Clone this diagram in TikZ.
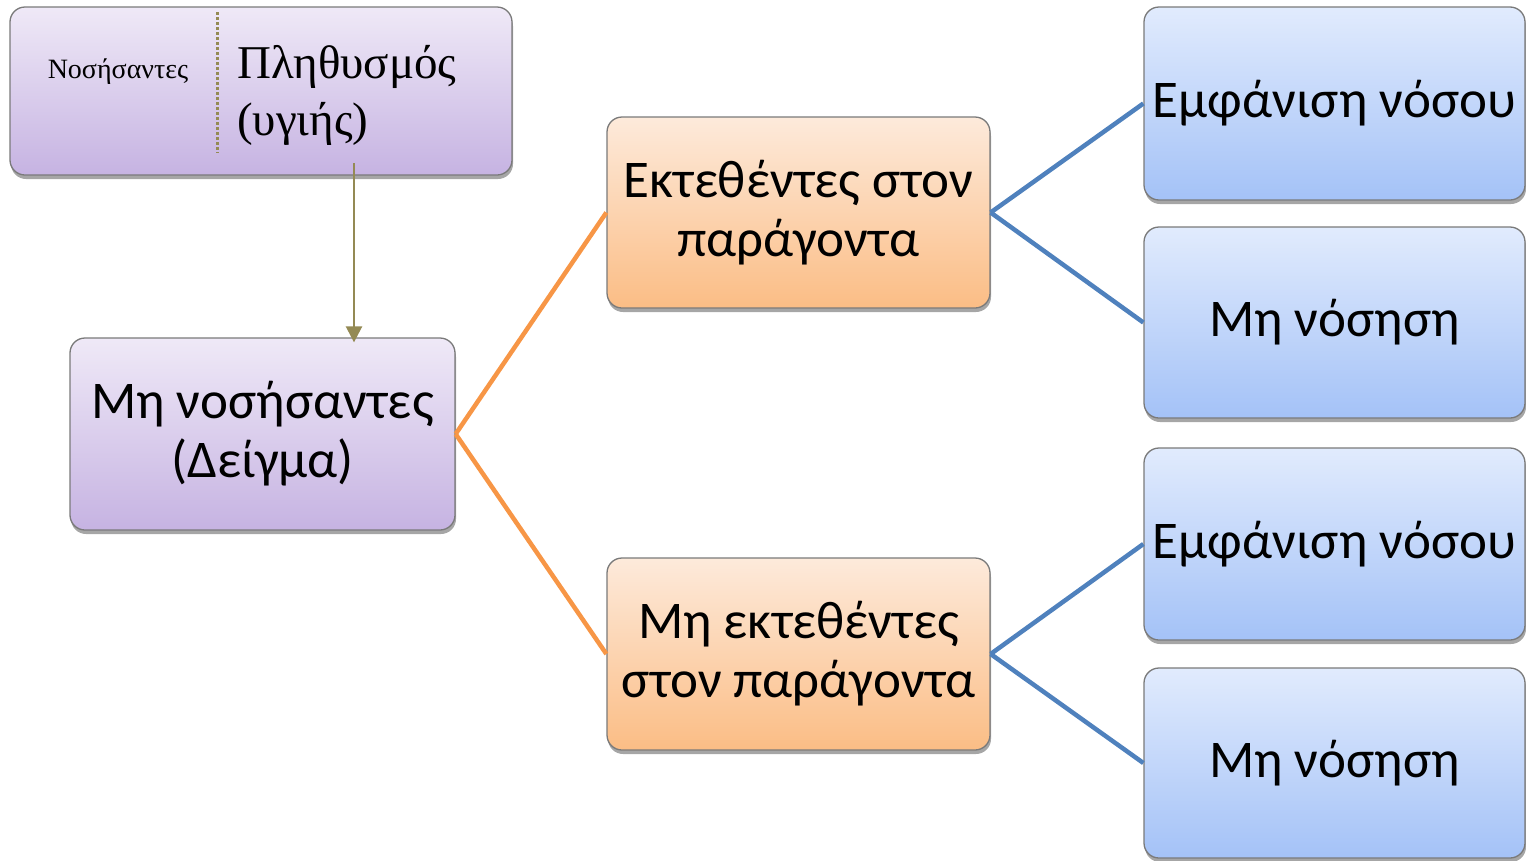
\documentclass[tikz,border=0pt]{standalone}
\usepackage{fontspec}
\setmainfont{Carlito}
\newfontfamily\serifgr{Liberation Serif}
\usetikzlibrary{shadows,arrows.meta}
\definecolor{purpTop}{HTML}{EFE9F7}
\definecolor{purpBot}{HTML}{C6B3E2}
\definecolor{oraTop}{HTML}{FDEADB}
\definecolor{oraBot}{HTML}{FBBD85}
\definecolor{bluTop}{HTML}{E1EBFD}
\definecolor{bluBot}{HTML}{A4C2F7}
\definecolor{olive}{HTML}{948A54}
\definecolor{orangeLine}{HTML}{F79646}
\definecolor{blueLine}{HTML}{4F81BD}
\definecolor{boxBorder}{HTML}{7A7A7A}
\tikzset{
  basebox/.style={draw=boxBorder, line width=1.3pt, rounded corners=15pt,
    align=center, inner sep=0pt,
    drop shadow={shadow xshift=1pt, shadow yshift=-4pt, opacity=0.35, fill=black}},
  pbox/.style={basebox, top color=purpTop, bottom color=purpBot},
  obox/.style={basebox, top color=oraTop, bottom color=oraBot},
  bbox/.style={basebox, top color=bluTop, bottom color=bluBot},
  bigtext/.style={font=\fontsize{53}{59}\selectfont},
  oline/.style={draw=orangeLine, line width=4.5pt},
  bline/.style={draw=blueLine, line width=4.5pt},
}
\begin{document}
\begin{tikzpicture}[x=1pt,y=-1pt]
\useasboundingbox (0,0) rectangle (1526,860);
% top box
\node[pbox, minimum width=502pt, minimum height=168pt] (top) at (261,91) {};
\node[font=\serifgr\fontsize{28}{32}\selectfont] (nos) at (118,72) {Νοσήσαντες};
\coordinate (dotA) at (217,12);
\coordinate (dotB) at (217,153);
\draw[olive, line width=3pt, dash pattern=on 3pt off 2pt] (dotA) -- (dotB);
\node[font=\serifgr\fontsize{47}{57}\selectfont, align=left, anchor=west, inner sep=0pt] (pop) at (237,95) {Πληθυσμός\\(υγιής)};
% middle box
\node[pbox, bigtext, minimum width=385pt, minimum height=192pt] (mid) at (262.5,434) {Μη νοσήσαντες\\(Δείγμα)};
\coordinate (arrStart) at (354,163);
\draw[olive, line width=2.5pt, shorten >=-5pt, -{Triangle[length=16pt,width=16pt]}] (arrStart) -- (arrStart |- mid.north);
% orange boxes
\node[obox, bigtext, minimum width=383pt, minimum height=191pt] (o1) at (798.5,212.5) {Εκτεθέντες στον\\παράγοντα};
\node[obox, bigtext, minimum width=383pt, minimum height=192pt] (o2) at (798.5,654) {Μη εκτεθέντες\\στον παράγοντα};
% blue boxes
\node[bbox, bigtext, minimum width=381pt, minimum height=193pt] (b1) at (1334.5,103.5) {Εμφάνιση νόσου};
\node[bbox, bigtext, minimum width=381pt, minimum height=191pt] (b2) at (1334.5,322.5) {Μη νόσηση};
\node[bbox, bigtext, minimum width=381pt, minimum height=192pt] (b3) at (1334.5,544) {Εμφάνιση νόσου};
\node[bbox, bigtext, minimum width=381pt, minimum height=190pt] (b4) at (1334.5,763) {Μη νόσηση};
% connectors
\draw[oline] (mid.east) -- (o1.west);
\draw[oline] (mid.east) -- (o2.west);
\draw[bline] (o1.east) -- (b1.west);
\draw[bline] (o1.east) -- (b2.west);
\draw[bline] (o2.east) -- (b3.west);
\draw[bline] (o2.east) -- (b4.west);
\end{tikzpicture}
\end{document}
